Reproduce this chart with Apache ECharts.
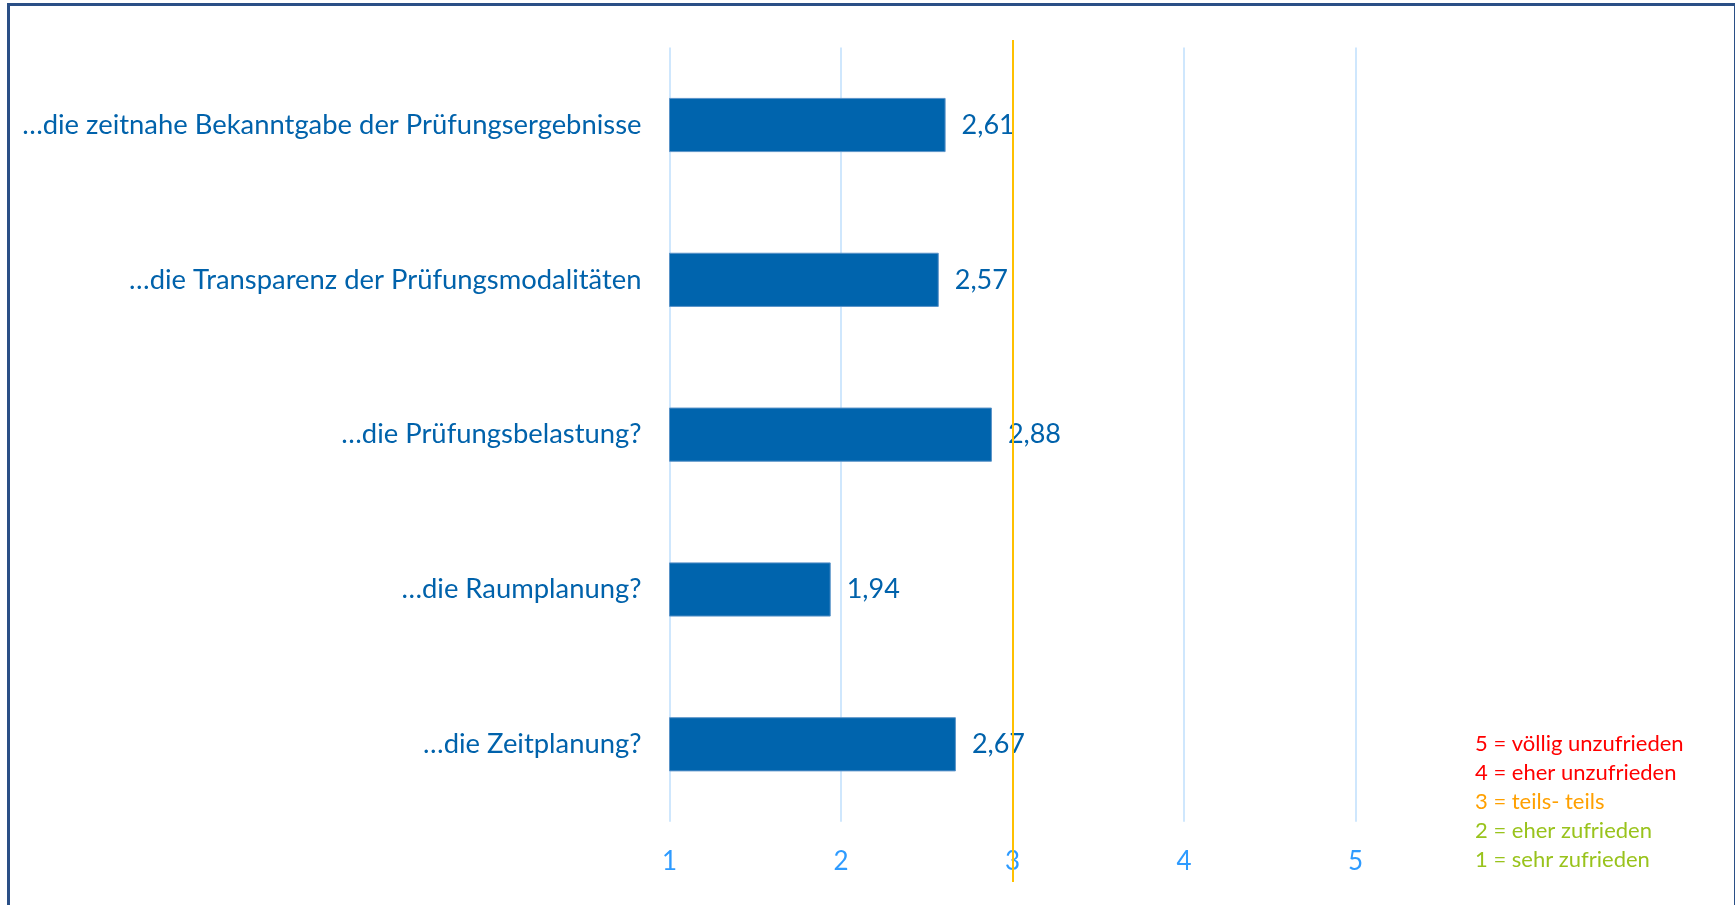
<!DOCTYPE html>
<html>
<head>
<meta charset="utf-8">
<script src="https://cdn.jsdelivr.net/npm/echarts@6/dist/echarts.min.js"></script>
<style>
    html, body { margin: 0; padding: 0; background: #fff; }
    #main { width: 1735px; height: 905px; position: relative; }
    #frame {
        position: absolute; left: 7px; top: 3px; width: 1724px; height: 910px;
        border: 3px solid #2a4f86; border-bottom: none; pointer-events: none;
    }
</style>
</head>
<body>
<div id="main"></div>
<div id="frame"></div>
<script>
    const categories = [
        '…die zeitnahe Bekanntgabe der Prüfungsergebnisse',
        '…die Transparenz der Prüfungsmodalitäten',
        '…die Prüfungsbelastung?',
        '…die Raumplanung?',
        '…die Zeitplanung?'
    ];
    const values = [2.61, 2.57, 2.88, 1.94, 2.67];
    const scaleTicks = [1, 2, 3, 4, 5];
    const refValue = 3;
    const scaleLegend = [
        { text: '5 = völlig unzufrieden', color: '#ff0000' },
        { text: '4 = eher unzufrieden', color: '#ff0000' },
        { text: '3 = teils- teils', color: '#ffa000' },
        { text: '2 = eher zufrieden', color: '#99c31c' },
        { text: '1 = sehr zufrieden', color: '#99c31c' }
    ];

    const font = 'Lato, "Open Sans", sans-serif';
    const blue = '#0064ad';

    let chart = echarts.init(document.getElementById('main'));

    let legendTexts = scaleLegend.map((item, i) => {
        return {
            type: 'text',
            left: 1475,
            top: 733 + i * 29,
            style: {
                text: item.text,
                fill: item.color,
                font: '22px ' + font
            }
        };
    });

    let option = {
        backgroundColor: '#fff',
        animation: false,
        grid: [
            { left: 669.5, right: 379.5, top: 47.6, bottom: 83.3 },
            { left: 669.5, right: 379.5, top: 40, bottom: 23 }
        ],
        xAxis: [
            {
                type: 'value',
                gridIndex: 0,
                min: scaleTicks[0],
                max: scaleTicks[scaleTicks.length - 1],
                interval: 1,
                axisLine: { show: false },
                axisTick: { show: false },
                splitLine: { show: true, lineStyle: { color: '#cfe7fd', width: 2 } },
                axisLabel: {
                    color: '#2e9bff',
                    fontSize: 26,
                    fontFamily: font,
                    margin: 27
                }
            },
            {
                type: 'value',
                gridIndex: 1,
                min: scaleTicks[0],
                max: scaleTicks[scaleTicks.length - 1],
                show: false
            }
        ],
        yAxis: [
            {
                type: 'category',
                gridIndex: 0,
                data: categories,
                inverse: true,
                axisLine: { show: false },
                axisTick: { show: false },
                axisLabel: {
                    color: '#0062ab',
                    fontSize: 27.4,
                    fontFamily: font,
                    margin: 28
                }
            },
            {
                type: 'value',
                gridIndex: 1,
                min: 0,
                max: 1,
                show: false
            }
        ],
        series: [
            {
                type: 'bar',
                xAxisIndex: 0,
                yAxisIndex: 0,
                data: values,
                barCategoryGap: '65%',
                itemStyle: {
                    color: blue,
                    borderColor: '#5a93c8',
                    borderWidth: 1
                },
                label: {
                    show: true,
                    position: 'right',
                    distance: 12,
                    color: '#0062ab',
                    fontSize: 27,
                    fontFamily: font,
                    backgroundColor: '#fff',
                    padding: [8, 4, 4, 4],
                    formatter: (p) => p.value.toFixed(2).replace('.', ',')
                }
            },
            {
                type: 'line',
                xAxisIndex: 1,
                yAxisIndex: 1,
                data: [],
                z: 10,
                markLine: {
                    silent: true,
                    symbol: 'none',
                    label: { show: false },
                    lineStyle: { color: '#ffc000', width: 2, type: 'solid' },
                    data: [{ xAxis: refValue }]
                }
            }
        ],
        graphic: legendTexts
    };

    chart.setOption(option);
</script>
</body>
</html>
